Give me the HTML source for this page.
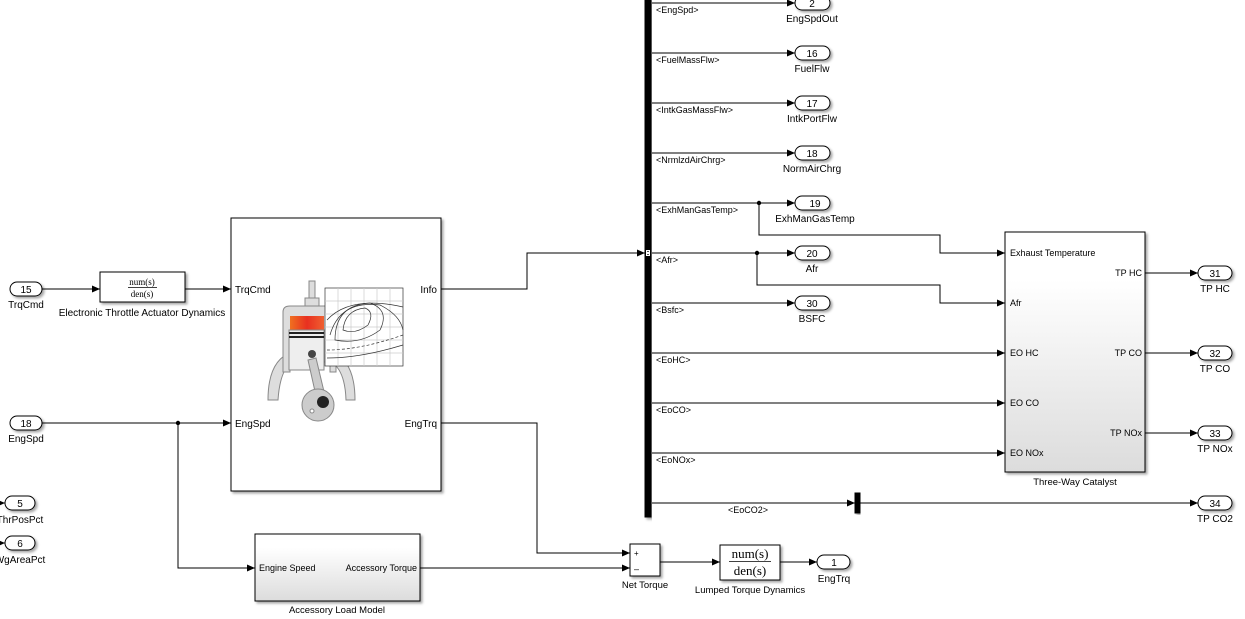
<!DOCTYPE html>
<html><head><meta charset="utf-8"><style>
html,body{margin:0;padding:0;background:#fff;overflow:hidden}
svg{display:block}
text{font-family:"Liberation Sans",Arial,sans-serif;fill:#000}
.s{font-size:10px}
.b{font-size:9px}
</style></head><body>
<svg width="1245" height="619" viewBox="0 0 1245 619" xmlns="http://www.w3.org/2000/svg">
<defs>
<marker id="a" markerWidth="8" markerHeight="8" refX="8" refY="4" orient="auto" markerUnits="userSpaceOnUse"><path d="M0,0.5 L8,4 L0,7.5 Z" fill="#000"/></marker>
<linearGradient id="g" x1="0" y1="0" x2="0" y2="1"><stop offset="0.2" stop-color="#fff"/><stop offset="1" stop-color="#dcdcdc"/></linearGradient>
<linearGradient id="red" x1="0" y1="0" x2="1" y2="0"><stop offset="0" stop-color="#f07020"/><stop offset="0.5" stop-color="#e83020"/><stop offset="1" stop-color="#f06030"/></linearGradient>
<filter id="sh" x="-5%" y="-5%" width="115%" height="115%"><feDropShadow dx="2" dy="2" stdDeviation="1.2" flood-color="#000" flood-opacity="0.35"/></filter>
</defs>
<g fill="none" stroke="#000" stroke-width="1">
<rect x="645" y="-2" width="6" height="519" fill="#000" filter="url(#sh)"/>
<rect x="646" y="250" width="4" height="6" fill="#fff" stroke="none"/>
<line x1="647" y1="251.5" x2="649" y2="251.5" stroke-width="0.7"/><line x1="647" y1="254.5" x2="649" y2="254.5" stroke-width="0.7"/>
<path d="M652,3H795" marker-end="url(#a)"/>
<path d="M652,53H795" marker-end="url(#a)"/>
<path d="M652,103H795" marker-end="url(#a)"/>
<path d="M652,153H795" marker-end="url(#a)"/>
<path d="M652,203H795" marker-end="url(#a)"/>
<path d="M652,253H795" marker-end="url(#a)"/>
<path d="M652,303H795" marker-end="url(#a)"/>
<path d="M759,203V235H940V253H1005" marker-end="url(#a)"/>
<path d="M757,253V285H940V303H1005" marker-end="url(#a)"/>
<path d="M652,353H1005" marker-end="url(#a)"/>
<path d="M652,403H1005" marker-end="url(#a)"/>
<path d="M652,453H1005" marker-end="url(#a)"/>
<path d="M652,503H855" marker-end="url(#a)"/>
<rect x="855" y="493" width="5" height="20" fill="#000" filter="url(#sh)"/>
<path d="M860,503H1198" marker-end="url(#a)"/>
<path d="M1145,273H1198" marker-end="url(#a)"/>
<path d="M1145,353H1198" marker-end="url(#a)"/>
<path d="M1145,433H1198" marker-end="url(#a)"/>
<path d="M441,289H527V253H645" marker-end="url(#a)"/>
<path d="M42,289H100" marker-end="url(#a)"/>
<path d="M185,289H231" marker-end="url(#a)"/>
<path d="M42,423H231" marker-end="url(#a)"/>
<path d="M178,423V568H255" marker-end="url(#a)"/>
<path d="M441,423H537V553H630" marker-end="url(#a)"/>
<path d="M420,568H630" marker-end="url(#a)"/>
<path d="M660,562H720" marker-end="url(#a)"/>
<path d="M780,562H817" marker-end="url(#a)"/>
<path d="M0,503H5" marker-end="url(#a)"/>
<path d="M0,543H5" marker-end="url(#a)"/>
</g>
<g fill="#000"><circle cx="759" cy="203" r="2.2"/><circle cx="757" cy="253" r="2.2"/><circle cx="178" cy="423" r="2.2"/></g>
<g stroke="#000" stroke-width="1" filter="url(#sh)">
<rect x="231" y="218" width="210" height="273" fill="#fff"/>
<rect x="100" y="272" width="85" height="30" fill="#fff"/>
<rect x="1005" y="232" width="140" height="240" fill="url(#g)"/>
<rect x="255" y="534" width="165" height="67" fill="url(#g)"/>
<rect x="630" y="544" width="30" height="32" fill="#fff"/>
<rect x="720" y="545" width="60" height="35" fill="#fff"/>
</g>
<g fill="#fff" stroke="#000" stroke-width="1" filter="url(#sh)">
<rect x="10" y="282" width="32" height="14" rx="7"/>
<rect x="10" y="416" width="32" height="14" rx="7"/>
<rect x="5" y="496" width="30" height="14" rx="7"/>
<rect x="5" y="536" width="30" height="14" rx="7"/>
<rect x="795" y="-4" width="35" height="14" rx="7"/>
<rect x="795" y="46" width="35" height="14" rx="7"/>
<rect x="795" y="96" width="35" height="14" rx="7"/>
<rect x="795" y="146" width="35" height="14" rx="7"/>
<rect x="795" y="196" width="35" height="14" rx="7"/>
<rect x="795" y="246" width="35" height="14" rx="7"/>
<rect x="795" y="296" width="35" height="14" rx="7"/>
<rect x="1198" y="266" width="34" height="14" rx="7"/>
<rect x="1198" y="346" width="34" height="14" rx="7"/>
<rect x="1198" y="426" width="34" height="14" rx="7"/>
<rect x="1198" y="496" width="34" height="14" rx="7"/>
<rect x="817" y="555" width="33" height="14" rx="7"/>
</g>
<g stroke="#888" stroke-width="1">
<path d="M268,400 Q268,360 292,352 L292,362 Q280,370 278,400 Z" fill="#ddd"/>
<path d="M355,400 Q355,360 331,352 L331,362 Q345,370 346,400 Z" fill="#ddd"/>
<path d="M283,372 V312 Q283,306 290,306 H336 V372 H330 V362 H290 V372 Z" fill="#ddd"/>
<rect x="290" y="316" width="34" height="14" fill="url(#red)" stroke="none"/>
<rect x="289" y="330" width="35" height="40" fill="#eee"/>
<rect x="289" y="332" width="35" height="2" fill="#222" stroke="none"/>
<rect x="289" y="336" width="35" height="2" fill="#222" stroke="none"/>
<path d="M308,360 L318,405 L326,400 L316,358 Z" fill="#ccc"/>
<circle cx="318" cy="405" r="16" fill="#ccc"/>
<circle cx="323" cy="402" r="6" fill="#222" stroke="none"/>
<circle cx="312" cy="411" r="2" fill="#fff"/>
<circle cx="312" cy="354" r="4" fill="#444" stroke="none"/>
<rect x="309" y="281" width="6" height="18" fill="#ddd"/>
<rect x="305" y="298" width="14" height="8" fill="#ddd"/>
</g>
<g stroke="#ccc" stroke-width="0.7" fill="#fff">
<rect x="325" y="288" width="78" height="78" stroke="#333"/>
<path d="M338,288V366M351,288V366M364,288V366M377,288V366M390,288V366M325,301H403M325,314H403M325,327H403M325,340H403M325,353H403"/>
</g>
<g fill="none" stroke="#333" stroke-width="0.7">
<path d="M327,320 Q350,295 403,307"/>
<path d="M330,335 Q340,300 380,305 Q400,315 403,330"/>
<path d="M343,330 Q345,310 365,308 Q375,312 368,325 Q355,335 343,330Z"/>
<path d="M335,340 Q335,305 370,303 Q390,310 380,330 Q360,345 335,340Z"/>
<path d="M327,350 Q360,350 403,335" stroke-dasharray="3,2"/>
<path d="M327,358 Q360,358 403,345"/>
</g>
<g class="s" text-anchor="middle">
<text x="26" y="293">15</text><text x="26" y="308">TrqCmd</text>
<text x="26" y="427">18</text><text x="26" y="442">EngSpd</text>
<text x="20" y="507">5</text><text x="20" y="523">ThrPosPct</text>
<text x="20" y="547">6</text><text x="20" y="563">WgAreaPct</text>
<text x="142" y="316">Electronic Throttle Actuator Dynamics</text>
<text x="812" y="7">2</text><text x="812" y="22">EngSpdOut</text>
<text x="812" y="57">16</text><text x="812" y="72">FuelFlw</text>
<text x="812" y="107">17</text><text x="812" y="122">IntkPortFlw</text>
<text x="812" y="157">18</text><text x="812" y="172">NormAirChrg</text>
<text x="815" y="207">19</text><text x="815" y="222">ExhManGasTemp</text>
<text x="812" y="257">20</text><text x="812" y="272">Afr</text>
<text x="812" y="307">30</text><text x="812" y="322">BSFC</text>
<text x="1215" y="277">31</text><text x="1215" y="292">TP HC</text>
<text x="1215" y="357">32</text><text x="1215" y="372">TP CO</text>
<text x="1215" y="437">33</text><text x="1215" y="452">TP NOx</text>
<text x="1215" y="507">34</text><text x="1215" y="522">TP CO2</text>
<text x="834" y="566">1</text><text x="834" y="582">EngTrq</text>
<text x="645" y="588" font-size="9.5">Net Torque</text>
<text x="750" y="593" font-size="9.5">Lumped Torque Dynamics</text>
<text x="337" y="613" font-size="9.5">Accessory Load Model</text>
<text x="1075" y="485" font-size="9.5">Three-Way Catalyst</text>
</g>
<g text-anchor="middle">
<text x="142" y="285" style="font-family:'Liberation Serif',serif;font-size:9px">num(s)</text><line x1="128" y1="287.5" x2="157" y2="287.5" stroke="#000" stroke-width="0.7"/><text x="142" y="297" style="font-family:'Liberation Serif',serif;font-size:9px">den(s)</text>
<text x="750" y="558" style="font-family:'Liberation Serif',serif;font-size:13px">num(s)</text><line x1="729" y1="561.5" x2="771" y2="561.5" stroke="#000" stroke-width="0.8"/><text x="750" y="575" style="font-family:'Liberation Serif',serif;font-size:13px">den(s)</text>
</g>
<g class="s">
<text x="235" y="293">TrqCmd</text><text x="235" y="427">EngSpd</text>
<text x="437" y="293" text-anchor="end">Info</text><text x="437" y="427" text-anchor="end">EngTrq</text>
<text x="1010" y="256" font-size="9">Exhaust Temperature</text>
<text x="1010" y="306" font-size="9">Afr</text>
<text x="1010" y="356" font-size="9">EO HC</text>
<text x="1010" y="406" font-size="9">EO CO</text>
<text x="1010" y="456" font-size="9">EO NOx</text>
<text x="1142" y="276" font-size="9" text-anchor="end">TP HC</text>
<text x="1142" y="356" font-size="9" text-anchor="end">TP CO</text>
<text x="1142" y="436" font-size="9" text-anchor="end">TP NOx</text>
<text x="259" y="571" font-size="9">Engine Speed</text>
<text x="417" y="571" font-size="9" text-anchor="end">Accessory Torque</text>
<text x="634" y="556" font-size="8">+</text><text x="634" y="572" font-size="9">–</text>
</g>
<g class="b">
<text x="656" y="13">&lt;EngSpd&gt;</text>
<text x="656" y="63">&lt;FuelMassFlw&gt;</text>
<text x="656" y="113">&lt;IntkGasMassFlw&gt;</text>
<text x="656" y="163">&lt;NrmlzdAirChrg&gt;</text>
<text x="656" y="213">&lt;ExhManGasTemp&gt;</text>
<text x="656" y="263">&lt;Afr&gt;</text>
<text x="656" y="313">&lt;Bsfc&gt;</text>
<text x="656" y="363">&lt;EoHC&gt;</text>
<text x="656" y="413">&lt;EoCO&gt;</text>
<text x="656" y="463">&lt;EoNOx&gt;</text>
<text x="728" y="513">&lt;EoCO2&gt;</text>
</g>
</svg>
</body></html>
